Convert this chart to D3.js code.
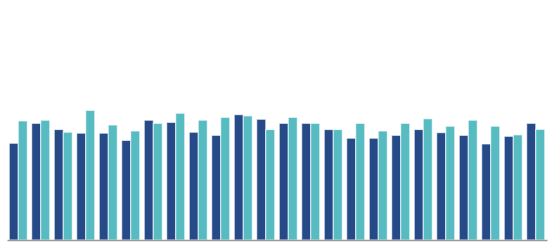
<!DOCTYPE html>
<html>
<head>
<meta charset="utf-8">
<script src="https://cdn.jsdelivr.net/npm/d3@7"></script>
<style>
  body { margin: 0; background: #fff; }
</style>
</head>
<body>
<div id="chart"></div>
<script>
// categories and series
var groups = d3.range(1, 25).map(function (i) { return "G" + i; });
var seriesNames = ["A", "B"];
var seriesA = [40.3, 48.6, 46.0, 44.5, 44.5, 41.5, 49.9, 49.0, 44.9, 43.6, 52.2, 50.3,
               48.6, 48.6, 46.0, 42.4, 42.4, 43.6, 46.0, 44.7, 43.6, 40.0, 43.2, 48.6];
var seriesB = [49.6, 49.9, 44.9, 54.0, 47.9, 45.4, 48.6, 52.8, 49.9, 51.1, 51.7, 46.0,
               51.1, 48.6, 46.0, 48.6, 45.4, 48.6, 50.5, 47.4, 49.9, 47.4, 43.8, 46.1];

var width = 558, height = 250;
var margin = { top: 0, right: 11, bottom: 10, left: 7 };

var svg = d3.select("#chart")
  .append("svg")
  .attr("width", width)
  .attr("height", height);

var data = groups.map(function (g, i) {
  return { group: g, values: [ { key: "A", v: seriesA[i] }, { key: "B", v: seriesB[i] } ] };
});

// outer band per group, inner band per series
var x0 = d3.scaleBand()
  .domain(groups)
  .range([margin.left, width - margin.right])
  .paddingInner(0.2)
  .paddingOuter(0.1);

var x1 = d3.scaleBand()
  .domain(seriesNames)
  .range([0, x0.bandwidth()]);

var y = d3.scaleLinear()
  .domain([0, 100])
  .range([height - margin.bottom, 0]);

var color = d3.scaleOrdinal()
  .domain(seriesNames)
  .range(["#264a87", "#57bcc2"]);

svg.append("g")
  .selectAll("g")
  .data(data)
  .enter()
  .append("g")
  .attr("transform", function (d) { return "translate(" + x0(d.group) + ",0)"; })
  .selectAll("rect")
  .data(function (d) { return d.values; })
  .enter()
  .append("rect")
  .attr("x", function (d) { return x1(d.key); })
  .attr("y", function (d) { return y(d.v); })
  .attr("width", x1.bandwidth())
  .attr("height", function (d) { return y(0) - y(d.v); })
  .style("fill", function (d) { return color(d.key); })
  .style("stroke", "#ffffff")
  .style("stroke-opacity", 0.7)
  .style("stroke-width", 1);

// baseline
svg.append("g")
  .attr("transform", "translate(0," + y(0) + ")")
  .call(d3.axisBottom(x0).tickSize(0).tickFormat(""))
  .call(function (g) {
    g.select(".domain").attr("stroke", "#9a9a9a").attr("stroke-width", 1.5);
  });
</script>
</body>
</html>
